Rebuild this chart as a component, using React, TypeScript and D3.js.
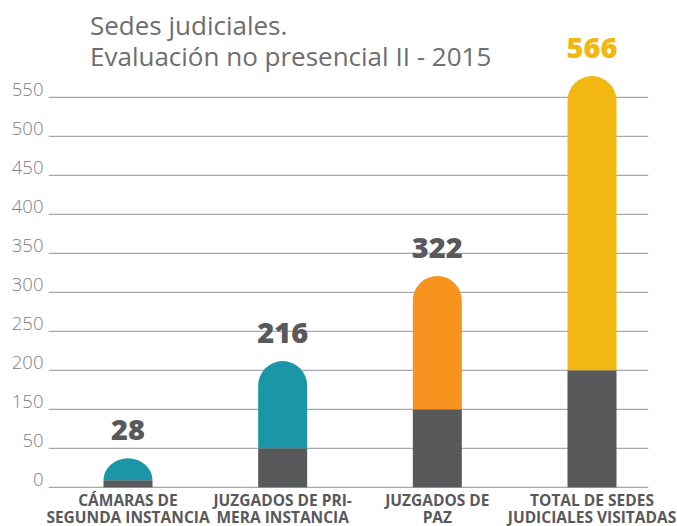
import React from "react";
import * as d3 from "d3";

const titleLines = ["Sedes judiciales.", "Evaluación no presencial II - 2015"];
const categories = ["camaras", "primera", "paz", "total"];
const categoryLabels = [
  ["CÁMARAS DE", "SEGUNDA INSTANCIA"],
  ["JUZGADOS DE PRI-", "MERA INSTANCIA"],
  ["JUZGADOS DE", "PAZ"],
  ["TOTAL DE SEDES", "JUDICIALES VISITADAS"],
];
// bar heights as drawn (in axis units, 55 per gridline step)
const barTops = [41, 178, 298, 580];
const darkSegments = [10, 55, 110, 165];
const valueLabels = [28, 216, 322, 566];
const topColors = ["#1b96a9", "#1b96a9", "#f7931e", "#f2b712"];
const labelColors = ["#58595b", "#58595b", "#58595b", "#f2b712"];
const yTickLabels = ["0", "50", "150", "200", "250", "300", "350", "400", "450", "500", "550"];
const yStep = 55;

const W = 677;
const H = 526;
const FONT = "'Open Sans', 'DejaVu Sans', sans-serif";

export default function App() {
  const y = d3.scaleLinear().domain([0, yStep * (yTickLabels.length - 1)]).range([487.3, 97.3]);
  const x = d3.scalePoint<string>().domain(categories).range([128, 592]);
  const barW = 49;
  const gridX0 = 48.7;
  const gridX1 = 648.3;
  const ticks = yTickLabels.map((lab, i) => ({ lab, v: i * yStep }));

  const topPath = (cx: number, topV: number, botV: number) => {
    const x0 = cx - barW / 2;
    const x1 = cx + barW / 2;
    const yt = y(topV);
    const yb = y(botV);
    const rx = barW / 2;
    const ry = Math.min(rx, yb - yt);
    return `M${x0},${yb}L${x0},${yt + ry}A${rx},${ry} 0 0 1 ${cx},${yt}A${rx},${ry} 0 0 1 ${x1},${yt + ry}L${x1},${yb}Z`;
  };

  return (
    <svg width={W} height={H} style={{ position: "absolute", left: 0, top: 0, background: "#fff" }}>
      <text x={90} y={35} fontFamily={FONT} fontSize={26} fill="#6d6e71">
        <tspan x={90} y={35}>{titleLines[0]}</tspan>
        <tspan x={90} y={65.7}>{titleLines[1]}</tspan>
      </text>
      {ticks.map((t) => (
        <g key={t.v}>
          <line x1={gridX0} x2={gridX1} y1={y(t.v)} y2={y(t.v)} stroke="#a7a9ac" strokeWidth={1.3} />
          <text x={43.5} y={y(t.v) - 1} textAnchor="end" fontFamily={FONT} fontWeight={300} fontSize={18.5} fill="#7d7f82">
            {t.lab}
          </text>
        </g>
      ))}
      {categories.map((c, i) => {
        const cx = x(c)!;
        return (
          <g key={c}>
            <rect x={cx - barW / 2} y={y(darkSegments[i])} width={barW} height={y(0) - y(darkSegments[i])} fill="#58595b" />
            <path d={topPath(cx, barTops[i], darkSegments[i])} fill={topColors[i]} />
            <text x={cx} y={y(barTops[i]) - 18} textAnchor="middle" fontFamily={FONT} fontWeight={800} fontSize={29} fill={labelColors[i]}>
              {valueLabels[i]}
            </text>
            <text textAnchor="middle" fontFamily={FONT} fontWeight={700} fontSize={15.5} fill="#58595b">
              <tspan x={cx} y={506}>{categoryLabels[i][0]}</tspan>
              <tspan x={cx} y={522.5}>{categoryLabels[i][1]}</tspan>
            </text>
          </g>
        );
      })}
    </svg>
  );
}
